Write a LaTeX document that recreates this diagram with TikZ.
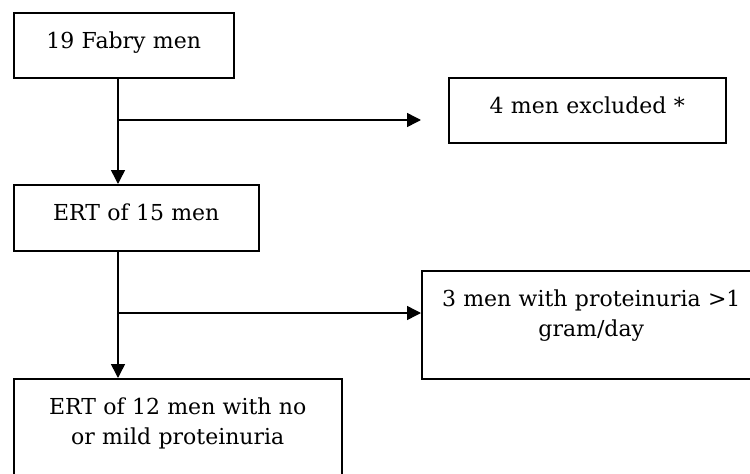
\documentclass[tikz,border=0pt]{standalone}
\usepackage{fontspec}
\setmainfont{DejaVu Serif}
\usetikzlibrary{arrows.meta}
\begin{document}
\begin{tikzpicture}[x=1pt, y=-1pt, line width=1.5pt,
		box/.style={draw, anchor=north west, inner sep=0pt, align=center, text height=36pt, font=\fontsize{22}{30}\selectfont},
		arr/.style={-{Triangle[length=14pt,width=14pt]}}]
	\useasboundingbox (0,0) rectangle (750,474);

	\node[box, text width=220pt, text depth=29pt](fabry) at (13, 12){19 Fabry men};
	\node[box, text width=277pt, text depth=29pt](excl) at (448, 77){4 men excluded *};
	\node[box, text width=245pt, text depth=30pt](ert15) at (13, 184){ERT of 15 men};
	\node[box, text width=339pt, text depth=72pt](prot) at (421, 270){3 men with proteinuria >1\\gram/day};
	\node[box, text width=328pt, text depth=76pt](ert12) at (13, 378){ERT of 12 men with no\\or mild proteinuria};

	\coordinate(trunk) at (118, 0);
		\coordinate(split1) at (118, 120);
		\coordinate(end1) at (421, 120);
		\coordinate(split2) at (118, 313);

	\draw[arr](trunk |- fabry.south) to (trunk |- ert15.north);
		\draw[arr](split1) to (end1);
	\draw[arr](trunk |- ert15.south) to (trunk |- ert12.north);
		\draw[arr](split2) to (split2 -| prot.west);
\end{tikzpicture}
\end{document}
